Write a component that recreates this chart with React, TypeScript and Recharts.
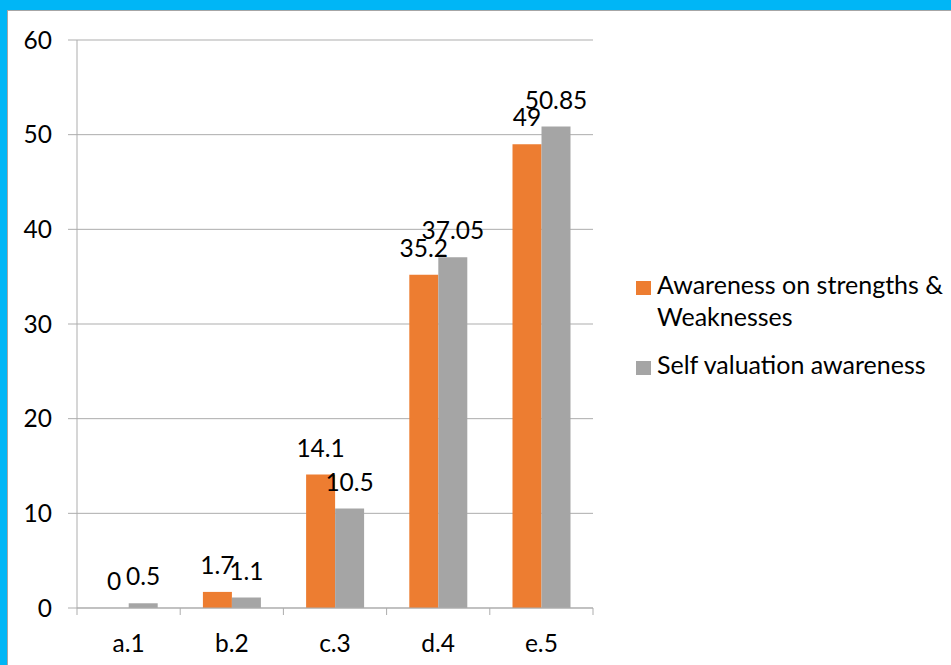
import React from "react";
import { BarChart, Bar, XAxis, YAxis, CartesianGrid, Legend, LabelList } from "recharts";

const categories = ["a.1", "b.2", "c.3", "d.4", "e.5"];
const awarenessStrengths = [0, 1.7, 14.1, 35.2, 49];
const selfValuation = [0.5, 1.1, 10.5, 37.05, 50.85];
const yTicks = [0, 10, 20, 30, 40, 50, 60];

const seriesNames = ["Awareness on strengths & Weaknesses", "Self valuation awareness"];

const data = categories.map((c, i) => ({
  category: c,
  strengths: awarenessStrengths[i],
  selfValuation: selfValuation[i],
}));

const W = 951;
const H = 665;
const X_AXIS_H = 30;
const MARGIN = { top: 40, right: 358, bottom: 57 - X_AXIS_H, left: 0 };
const Y_AXIS_W = 77;
const PLOT_W = W - MARGIN.left - MARGIN.right - Y_AXIS_W;
const BAND = PLOT_W / categories.length;

const FONT = "Lato, 'Open Sans', sans-serif";
const GRID = "#ADADAD";
const ORANGE = "#ED7D31";
const GREY = "#A5A5A5";

// keep zero-valued bars in the layout so their value label is still drawn
const keepZeroBar = (value: any) => (Number(value) === 0 ? 0.001 : 0);

const CategoryTick = (props: any) => {
  const { x, y, payload, index } = props;
  return (
    <g>
      <line x1={x - BAND / 2} x2={x - BAND / 2} y1={y} y2={y + 7} stroke={GRID} />
      {index === categories.length - 1 && (
        <line x1={x + BAND / 2} x2={x + BAND / 2} y1={y} y2={y + 7} stroke={GRID} />
      )}
      <text x={x} y={y + 44} textAnchor="middle" fill="#000" fontSize={24.5} fontFamily={FONT}>
        {payload.value}
      </text>
    </g>
  );
};

const ValueLabel = (props: any) => {
  const { x, y, width, value } = props;
  return (
    <text
      x={Number(x) + Number(width) / 2}
      y={Number(y) - 18}
      textAnchor="middle"
      fill="#000"
      fontSize={24.5}
      fontFamily={FONT}
    >
      {value}
    </text>
  );
};

const LegendContent = (props: any) => {
  const items = props.payload || [];
  return (
    <div style={{ fontFamily: FONT, fontSize: 25, color: "#000", textAlign: "left" }}>
      {items.map((it: any, i: number) => (
        <div
          key={i}
          style={{ display: "flex", alignItems: "flex-start", marginBottom: i === 0 ? 16 : 0 }}
        >
          <div
            style={{
              width: 15,
              height: 14,
              background: it.color,
              marginTop: 13,
              marginRight: 6,
              flex: "0 0 auto",
            }}
          />
          <div style={{ lineHeight: "32px", width: 292 }}>{it.value}</div>
        </div>
      ))}
    </div>
  );
};

export default function App() {
  return (
    <div style={{ position: "absolute", left: 0, top: 0, width: W, height: H, background: "#00B6F6", overflow: "hidden" }}>
      <div
        style={{
          position: "absolute",
          left: 7,
          top: 10,
          width: W - 7,
          height: H - 10,
          background: "#fff",
          borderTop: "1px solid #A6A6A6",
          borderLeft: "1px solid #A6A6A6",
          boxSizing: "border-box",
        }}
      />
      <div style={{ position: "absolute", left: 0, top: 0 }}>
        <BarChart
          width={W}
          height={H}
          data={data}
          margin={MARGIN}
          barCategoryGap="22%"
          barGap={0}
        >
          <CartesianGrid vertical={false} stroke={GRID} />
          <XAxis
            dataKey="category"
            height={X_AXIS_H}
            axisLine={{ stroke: GRID }}
            tickLine={false}
            tickSize={0}
            tickMargin={0}
            interval={0}
            tick={<CategoryTick />}
          />
          <YAxis
            width={Y_AXIS_W}
            domain={[0, 60]}
            ticks={yTicks}
            interval={0}
            axisLine={{ stroke: GRID }}
            tickLine={{ stroke: GRID }}
            tickSize={9}
            tickMargin={16}
            tick={{ fill: "#000", fontSize: 24.5, fontFamily: FONT }}
          />
          <Legend
            layout="vertical"
            align="center"
            verticalAlign="middle"
            wrapperStyle={{ left: 636, top: 268, width: 315, right: "auto", bottom: "auto" }}
            content={<LegendContent />}
          />
          <Bar
            dataKey="strengths"
            name={seriesNames[0]}
            fill={ORANGE}
            minPointSize={keepZeroBar}
            isAnimationActive={false}
          >
            <LabelList dataKey="strengths" content={<ValueLabel />} />
          </Bar>
          <Bar
            dataKey="selfValuation"
            name={seriesNames[1]}
            fill={GREY}
            minPointSize={keepZeroBar}
            isAnimationActive={false}
          >
            <LabelList dataKey="selfValuation" content={<ValueLabel />} />
          </Bar>
        </BarChart>
      </div>
    </div>
  );
}
